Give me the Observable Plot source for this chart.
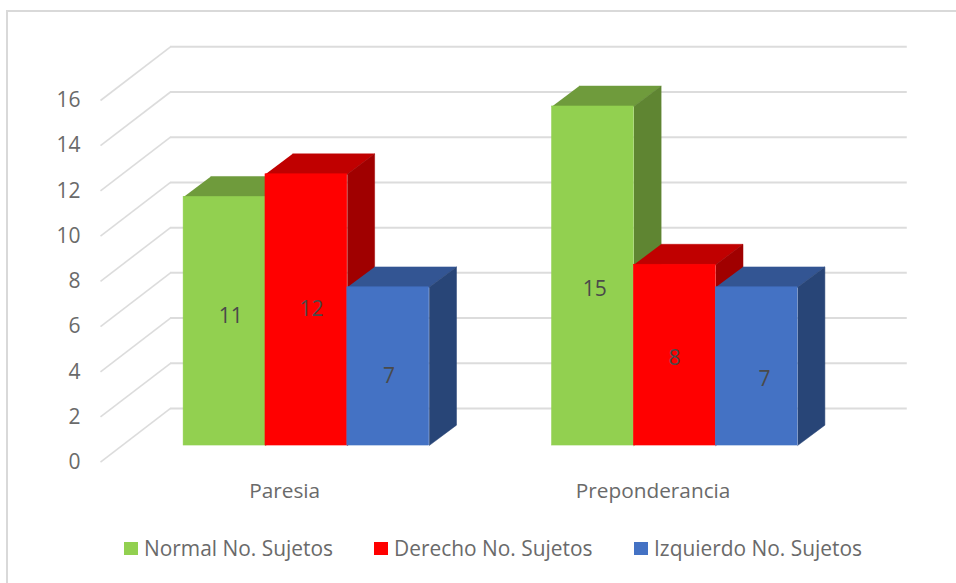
<!DOCTYPE html>
<html>
<head>
<meta charset="utf-8">
<script src="https://cdn.jsdelivr.net/npm/d3@7"></script>
<script src="https://cdn.jsdelivr.net/npm/@observablehq/plot@0.6"></script>
<style>
  html, body { margin: 0; padding: 0; background: #fff; overflow: hidden; }
  #page { position: relative; width: 956px; height: 583px; overflow: hidden; font-family: "Open Sans", sans-serif; }
  #frame { position: absolute; left: 6px; top: 10px; width: 1000px; height: 700px; border: 2.5px solid #d9d9d9; box-sizing: border-box; }
  #chart { position: absolute; left: 0; top: 0; }
  #legend { position: absolute; left: 0; top: 534px; width: 956px; height: 28px; color: #6a6a6a; font-size: 20.9px; line-height: 28px; }
  #legend span.item { position: absolute; top: 0; white-space: nowrap; }
  #legend i { position: absolute; left: 0; top: 8px; width: 14px; height: 13px; }
  #legend b { font-weight: normal; position: absolute; left: 20px; top: 0; }
</style>
</head>
<body>
<div id="page">
  <div id="frame"></div>
  <div id="chart"></div>
  <div id="legend"></div>
</div>
<script>
const categories = ["Paresia", "Preponderancia"];
const seriesNames = ["Normal No. Sujetos", "Derecho No. Sujetos", "Izquierdo No. Sujetos"];
const normal = [11, 15];
const derecho = [12, 8];
const izquierdo = [7, 7];
const seriesValues = [normal, derecho, izquierdo];
const frontColors = ["#92D050", "#FF0000", "#4472C4"];
const topColors = ["#6F9B3C", "#C00000", "#335593"];
const sideColors = ["#5F8532", "#A00000", "#284577"];
const yTicks = [0, 2, 4, 6, 8, 10, 12, 14, 16];
const legendLeft = [124, 374, 634];
// label anchors, by series then category
const labelLevel = [[5.72, 6.9], [6.05, 3.85], [3.05, 2.92]];
const labelShift = [[0.0166, 0.005], [0.014, -0.001], [0.002, 0.021]];

// oblique projection: full depth of the floor, in category and value units
const depthX = 70 / 368.5;
const depthY = 2.376;
const barFront = 0.31, barBackX = 0.70, barBackY = 0.69;
const barW = 2 / 9;

const px = (u, d) => u + d * depthX;
const py = (v, d) => v + d * depthY;

const marks = [
  Plot.ruleY(yTicks, {y: v => py(v, 1), x1: px(0, 1), x2: px(2, 1), stroke: "#dcdcdc", strokeWidth: 2}),
  Plot.link(yTicks, {x1: px(0, 0), y1: v => py(v, 0), x2: px(0, 1), y2: v => py(v, 1), stroke: "#dcdcdc", strokeWidth: 1.6})
];

const labels = [];
categories.forEach((cat, c) => {
  seriesValues.forEach((vals, s) => {
    const v = vals[c];
    const u0 = c + 1 / 6 + s * barW;
    const u1 = u0 + barW;
    const top = [
      {x: px(u0, barFront), y: py(v, barFront)},
      {x: px(u1, barFront), y: py(v, barFront)},
      {x: px(u1, barBackX), y: py(v, barBackY)},
      {x: px(u0, barBackX), y: py(v, barBackY)}
    ];
    const side = [
      {x: px(u1, barFront), y: py(0, barFront)},
      {x: px(u1, barBackX), y: py(0, barBackY)},
      {x: px(u1, barBackX), y: py(v, barBackY)},
      {x: px(u1, barFront), y: py(v, barFront)}
    ];
    marks.push(
      Plot.line(top, {x: "x", y: "y", fill: topColors[s], stroke: topColors[s], strokeWidth: 0.5}),
      Plot.line(side, {x: "x", y: "y", fill: sideColors[s], stroke: sideColors[s], strokeWidth: 0.5}),
      Plot.rect([{v}], {
        x1: px(u0, barFront), x2: px(u1, barFront),
        y1: py(0, barFront), y2: d => py(d.v, barFront),
        fill: frontColors[s], stroke: frontColors[s], strokeWidth: 0.5
      })
    );
    labels.push({
      x: px((u0 + u1) / 2 + labelShift[s][c], barFront),
      y: py(labelLevel[s][c], barFront),
      text: String(v)
    });
  });
});

marks.push(
  Plot.text(labels, {x: "x", y: "y", text: "text", fill: "#4a4a4a", fontSize: 21}),
  Plot.axisY(yTicks, {tickSize: 0, tickPadding: 0, label: null, fontSize: 21, fill: "#6a6a6a", anchor: "left"}),
  Plot.axisX([0.5, 1.5], {tickSize: 0, tickPadding: 0, label: null, fontSize: 20.8, fill: "#6a6a6a", tickFormat: u => categories[Math.floor(u)], anchor: "bottom"})
);

const chart = Plot.plot({
  width: 956,
  height: 530,
  marginLeft: 80,
  marginRight: 0,
  marginTop: 0,
  marginBottom: 47,
  style: {background: "transparent", fontFamily: "'Open Sans', sans-serif"},
  x: {type: "linear", domain: [0, 2], range: [100, 836.8]},
  y: {type: "linear", domain: [0, 16], range: [461.7, 100]},
  marks
});
document.getElementById("chart").appendChild(chart);

const legend = document.getElementById("legend");
seriesNames.forEach((name, i) => {
  const it = document.createElement("span");
  it.className = "item";
  it.style.left = legendLeft[i] + "px";
  const sw = document.createElement("i");
  sw.style.background = frontColors[i];
  const tx = document.createElement("b");
  tx.textContent = name;
  it.append(sw, tx);
  legend.appendChild(it);
});
</script>
</body>
</html>
